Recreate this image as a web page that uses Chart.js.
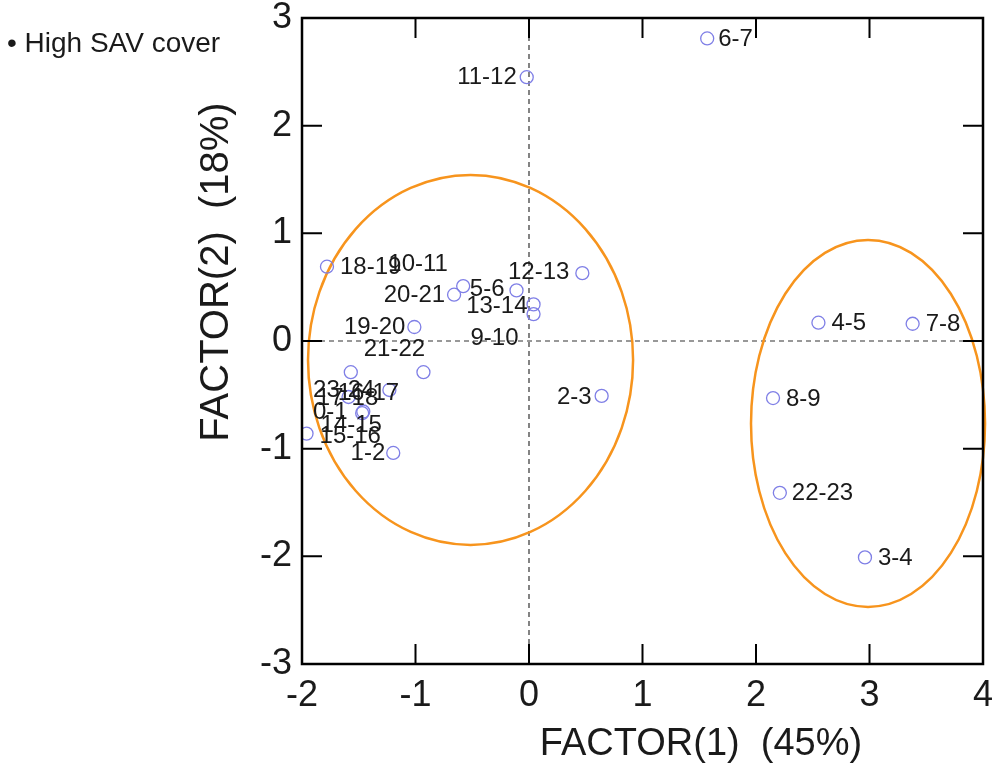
<!DOCTYPE html>
<html>
<head>
<meta charset="utf-8">
<script src="https://cdn.jsdelivr.net/npm/chart.js@4.4.1/dist/chart.umd.min.js"></script>
<style>
  html, body { margin: 0; padding: 0; background: #ffffff; }
  #wrap { width: 999px; height: 768px; position: relative; }
</style>
</head>
<body>
<div id="wrap"><canvas id="c" width="999" height="768"></canvas></div>
<script>
// ---- data ----
const intervals = ['0-1','1-2','2-3','3-4','4-5','5-6','6-7','7-8','8-9','9-10','10-11','11-12',
                   '12-13','13-14','14-15','15-16','16-17','17-18','18-19','19-20','20-21','21-22','22-23','23-24'];
const factor1 = [-1.46, -1.196, 0.64, 2.96, 2.55, -0.11, 1.57, 3.38, 2.15, 0.04, -0.58, -0.02,
                 0.47, 0.04, -1.47, -1.96, -1.23, -1.59, -1.78, -1.01, -0.66, -0.93, 2.21, -1.57];
const factor2 = [-0.655, -1.04, -0.51, -2.01, 0.17, 0.47, 2.81, 0.16, -0.53, 0.25, 0.51, 2.45,
                 0.63, 0.34, -0.67, -0.86, -0.455, -0.52, 0.69, 0.13, 0.43, -0.29, -1.41, -0.29];
const xTickLabels = ['-2','-1','0','1','2','3','4'];
const yTickLabels = ['-3','-2','-1','0','1','2','3'];
const groupCx = [-0.515, 2.987];
const groupCy = [-0.176, -0.766];
const groupRx = [1.432, 1.031];
const groupRy = [1.718, 1.704];
const legendText = '• High SAV cover';
const xTitle = 'FACTOR(1)  (45%)';
const yTitle = 'FACTOR(2)  (18%)';

// ---- label placement style (align, dx, dy in px) ----
const labelStyle = {
  '6-7':['left',11,1], '11-12':['right',-10,0], '18-19':['left',13,1], '10-11':['center',-45,-22],
  '20-21':['right',-9,1], '5-6':['right',-12,-1], '13-14':['right',-6,2], '9-10':['center',-39,24],
  '12-13':['right',-13,-1], '19-20':['right',-9,0], '21-22':['center',-29,-23], '23-24':['center',-7,18],
  '16-17':['center',-21,3], '17-18':['center',-1,1], '0-1':['center',-33,1], '14-15':['center',-11,12],
  '15-16':['left',13,3], '1-2':['right',-8,0], '2-3':['right',-10,1], '4-5':['left',13,1],
  '7-8':['left',13,1], '8-9':['left',13,1], '22-23':['left',12,1], '3-4':['left',13,1]
};

const FONT = '"Liberation Sans", Arial, Helvetica, sans-serif';

const points = factor1.map((x, i) => ({ x: x, y: factor2[i] }));

const overlay = {
  id: 'overlay',
  beforeDatasetsDraw(chart) {
    const { ctx, chartArea: a, scales: { x, y } } = chart;
    ctx.save();
    ctx.strokeStyle = '#333';
    ctx.lineWidth = 1.2;
    ctx.setLineDash([5, 4]);
    const x0 = x.getPixelForValue(0), y0 = y.getPixelForValue(0);
    ctx.beginPath();
    ctx.moveTo(x0, a.top); ctx.lineTo(x0, a.bottom);
    ctx.moveTo(a.left, y0); ctx.lineTo(a.right, y0);
    ctx.stroke();
    ctx.setLineDash([]);
    ctx.strokeStyle = '#f7941d';
    ctx.lineWidth = 2.5;
    for (let i = 0; i < groupCx.length; i++) {
      const cx = x.getPixelForValue(groupCx[i]);
      const cy = y.getPixelForValue(groupCy[i]);
      const rx = Math.abs(x.getPixelForValue(groupCx[i] + groupRx[i]) - cx);
      const ry = Math.abs(y.getPixelForValue(groupCy[i] + groupRy[i]) - cy);
      ctx.beginPath();
      ctx.ellipse(cx, cy, rx, ry, 0, 0, Math.PI * 2);
      ctx.stroke();
    }
    ctx.restore();
  },
  afterDatasetsDraw(chart) {
    const { ctx, chartArea: a, scales: { x, y } } = chart;
    ctx.save();
    ctx.font = '24px ' + FONT;
    ctx.fillStyle = '#1a1a1a';
    ctx.textBaseline = 'middle';
    const meta = chart.getDatasetMeta(0);
    meta.data.forEach((el, i) => {
      const st = labelStyle[intervals[i]] || ['left', 12, 0];
      ctx.textAlign = st[0];
      ctx.fillText(intervals[i], el.x + st[1], el.y + st[2]);
    });
    ctx.strokeStyle = '#000';
    ctx.lineWidth = 2.5;
    ctx.strokeRect(a.left, a.top, a.right - a.left, a.bottom - a.top);
    ctx.lineWidth = 2;
    const tl = 20;
    ctx.beginPath();
    for (let v = -2; v <= 4; v++) {
      const px = x.getPixelForValue(v);
      ctx.moveTo(px, a.bottom); ctx.lineTo(px, a.bottom - tl);
      ctx.moveTo(px, a.top); ctx.lineTo(px, a.top + tl);
    }
    for (let v = -3; v <= 3; v++) {
      const py = y.getPixelForValue(v);
      ctx.moveTo(a.left, py); ctx.lineTo(a.left + tl, py);
      ctx.moveTo(a.right, py); ctx.lineTo(a.right - tl, py);
    }
    ctx.stroke();
    ctx.restore();
  },
  afterDraw(chart) {
    const { ctx } = chart;
    ctx.save();
    ctx.fillStyle = '#1a1a1a';
    ctx.textBaseline = 'middle';
    ctx.font = '28px ' + FONT;
    ctx.textAlign = 'left';
    ctx.fillText(legendText, 7, 44);
    ctx.font = '38px ' + FONT;
    ctx.textAlign = 'center';
    ctx.fillText(xTitle, 701, 745);
    ctx.translate(217, 272);
    ctx.rotate(-Math.PI / 2);
    ctx.font = '40px ' + FONT;
    ctx.fillText(yTitle, 0, 0);
    ctx.restore();
  }
};

new Chart(document.getElementById('c'), {
  type: 'scatter',
  data: {
    datasets: [{
      data: points,
      pointStyle: 'circle',
      pointRadius: 6.5,
      pointHoverRadius: 6.5,
      borderWidth: 1.3,
      borderColor: '#7f7fe6',
      backgroundColor: 'rgba(0,0,0,0)'
    }]
  },
  options: {
    responsive: false,
    animation: false,
    devicePixelRatio: 1,
    layout: { padding: { top: 18, right: 16, left: 0, bottom: 0 } },
    plugins: { legend: { display: false }, tooltip: { enabled: false } },
    scales: {
      x: {
        type: 'linear', min: -2, max: 4,
        grid: { display: false, drawTicks: false },
        border: { display: false },
        ticks: {
          stepSize: 1, padding: 14, color: '#1a1a1a',
          font: { family: FONT, size: 36, lineHeight: 1 },
          callback: (v) => xTickLabels[Math.round(v) + 2]
        },
        afterFit: (s) => { s.height = 104; s.paddingLeft = 0; s.paddingRight = 0; }
      },
      y: {
        type: 'linear', min: -3, max: 3,
        grid: { display: false, drawTicks: false },
        border: { display: false },
        ticks: {
          stepSize: 1, padding: 10, color: '#1a1a1a',
          font: { family: FONT, size: 36, lineHeight: 1 },
          callback: (v) => yTickLabels[Math.round(v) + 3]
        },
        afterFit: (s) => { s.width = 302; s.paddingTop = 0; s.paddingBottom = 0; }
      }
    }
  },
  plugins: [overlay]
});
</script>
</body>
</html>
